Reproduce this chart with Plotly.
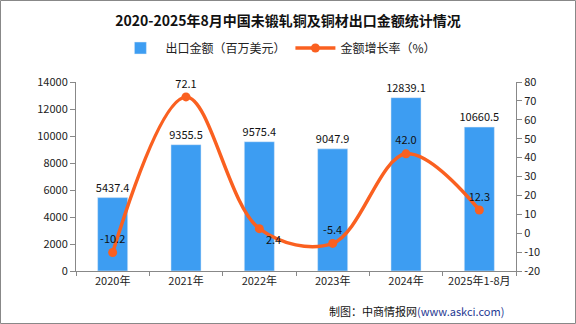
import plotly.graph_objects as go

categories = ["2020年", "2021年", "2022年", "2023年", "2024年", "2025年1-8月"]
export_value = [5437.4, 9355.5, 9575.4, 9047.9, 12839.1, 10660.5]
growth_rate = [-10.2, 72.1, 2.4, -5.4, 42.0, 12.3]
growth_text_pos = ["top center", "top center", "bottom right", "top center", "top center", "top center"]
left_ticks = [0, 2000, 4000, 6000, 8000, 10000, 12000, 14000]
right_ticks = [-20, -10, 0, 10, 20, 30, 40, 50, 60, 70, 80]

FONT = "Noto Sans CJK SC"
W, H = 576, 324
L, R, T, B = 76, 60, 82, 53
PW, PH = W - L - R, H - T - B

fig = go.Figure()
fig.add_trace(go.Bar(
    x=categories, y=export_value, name="出口金额（百万美元）",
    marker=dict(color="#3d9df2"), width=0.41,
    text=[f"{v:.1f}" for v in export_value], textposition="outside",
    textfont=dict(size=11, color="#111", family=FONT), cliponaxis=False,
    constraintext="none", textangle=0,
))
fig.add_trace(go.Scatter(
    x=categories, y=growth_rate, name="金额增长率（%）", yaxis="y2",
    mode="lines+markers+text",
    line=dict(color="#fa6020", width=3.5, shape="spline", smoothing=1.0),
    marker=dict(color="#fa6020", size=9),
    text=[f"{v:.1f}" for v in growth_rate], textposition=growth_text_pos,
    textfont=dict(size=11, color="#111", family=FONT), cliponaxis=False,
))

fig.update_layout(
    width=W, height=H, margin=dict(l=L, r=R, t=T, b=B),
    paper_bgcolor="white", plot_bgcolor="white",
    font=dict(family=FONT, size=11, color="#222"),
    title=dict(text="<b>2020-2025年8月中国未锻轧铜及铜材出口金额统计情况</b>",
               x=0.5, xanchor="center", y=1 - 21 / H, yanchor="middle",
               font=dict(size=14, color="#111", family=FONT)),
    legend=dict(orientation="h", x=0.46, xanchor="center", y=(H - B - 48) / PH, yanchor="middle",
                font=dict(size=12, family=FONT), itemwidth=40, traceorder="normal"),
    xaxis=dict(showline=True, linecolor="#888", linewidth=1, ticks="outside", ticklen=4,
               tickcolor="#888", tickson="boundaries", tickfont=dict(size=11),
               showgrid=False),
    yaxis=dict(range=[0, 14000], tickvals=left_ticks, ticktext=[str(v) for v in left_ticks],
               showline=True, linecolor="#888",
               ticks="outside", ticklen=5, tickcolor="#888", showgrid=False, zeroline=False,
               tickfont=dict(size=11)),
    yaxis2=dict(range=[-20, 80], tickvals=right_ticks, ticktext=[str(v) for v in right_ticks],
                overlaying="y", side="right",
                showline=True, linecolor="#888", ticks="outside", ticklen=5, tickcolor="#888",
                showgrid=False, zeroline=False, tickfont=dict(size=11)),
    shapes=[dict(type="rect", xref="paper", yref="paper",
                 x0=(0.5 - L) / PW, x1=(W - 0.5 - L) / PW,
                 y0=(H - B - (H - 0.5)) / PH, y1=(H - B - 0.5) / PH,
                 line=dict(color="#888", width=1), layer="below")],
    annotations=[
        dict(text="制图：中商情报网<span style='color:#1f3a93'>(www.askci.com)</span>",
             xref="paper", yref="paper", x=(506 - L) / PW, xanchor="right",
             y=(H - B - 311) / PH, yanchor="middle", showarrow=False,
             font=dict(size=11, color="#111", family=FONT)),
    ],
)

fig.write_html("out.html")
